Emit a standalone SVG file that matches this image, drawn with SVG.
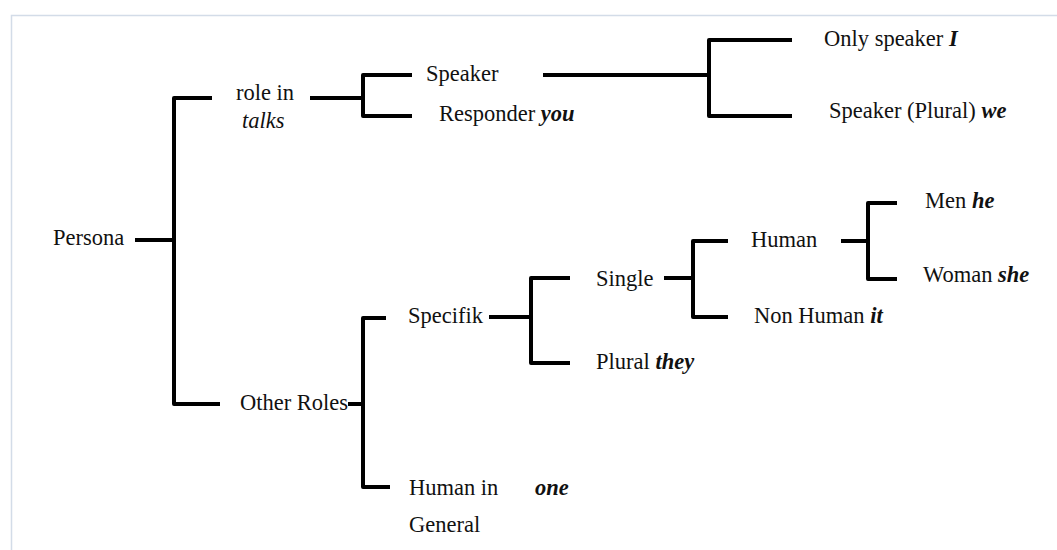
<svg xmlns="http://www.w3.org/2000/svg" width="1057" height="550" viewBox="0 0 1057 550">
<style>
.t{font-family:"Liberation Serif","Times New Roman",serif;font-size:22.5px;fill:#111}
.i{font-style:italic}
.b{font-weight:bold;font-style:italic}
.c{fill:none;stroke:#000;stroke-width:4;stroke-linejoin:round}
</style>
<rect width="1057" height="550" fill="#fff"/>
<path d="M11.5,560 V15.5 H1070" fill="none" stroke="#d3dce8" stroke-width="1.5"/>
<g id="connectors" class="c">
<path d="M212,98 H174 V404 H220"/>
<path d="M135,240 H174"/>
<path d="M310,98 H363"/>
<path d="M412,75 H363 V116 H412"/>
<path d="M543,75 H709"/>
<path d="M792,40 H709 V116 H792"/>
<path d="M348,404 H363"/>
<path d="M386,318 H363 V487 H390"/>
<path d="M489,317 H531"/>
<path d="M570,278 H531 V363 H570"/>
<path d="M664,278 H693"/>
<path d="M728,241 H693 V317 H728"/>
<path d="M841,241 H868"/>
<path d="M897,203 H868 V279 H897"/>
</g>
<g id="persona"><text class="t" x="53" y="245">Persona</text></g>
<g id="role"><text class="t" x="236" y="100">role in</text><text class="t i" x="242" y="128">talks</text></g>
<g id="speaker"><text class="t" x="426" y="81">Speaker</text></g>
<g id="responder"><text class="t" x="439" y="121">Responder <tspan class="b">you</tspan></text></g>
<g id="only"><text class="t" x="824" y="46">Only speaker <tspan class="b">I</tspan></text></g>
<g id="plural-we"><text class="t" x="829" y="118">Speaker (Plural) <tspan class="b">we</tspan></text></g>
<g id="other"><text class="t" x="240" y="410">Other Roles</text></g>
<g id="specifik"><text class="t" x="408" y="323">Specifik</text></g>
<g id="general"><text class="t" x="409" y="495">Human in</text><text class="t b" x="535" y="495">one</text><text class="t" x="409" y="532">General</text></g>
<g id="single"><text class="t" x="596" y="286">Single</text></g>
<g id="they"><text class="t" x="596" y="369">Plural <tspan class="b">they</tspan></text></g>
<g id="human"><text class="t" x="751" y="247">Human</text></g>
<g id="nonhuman"><text class="t" x="754" y="323">Non Human <tspan class="b">it</tspan></text></g>
<g id="men"><text class="t" x="925" y="208">Men <tspan class="b">he</tspan></text></g>
<g id="woman"><text class="t" x="923" y="282">Woman <tspan class="b">she</tspan></text></g>
</svg>
